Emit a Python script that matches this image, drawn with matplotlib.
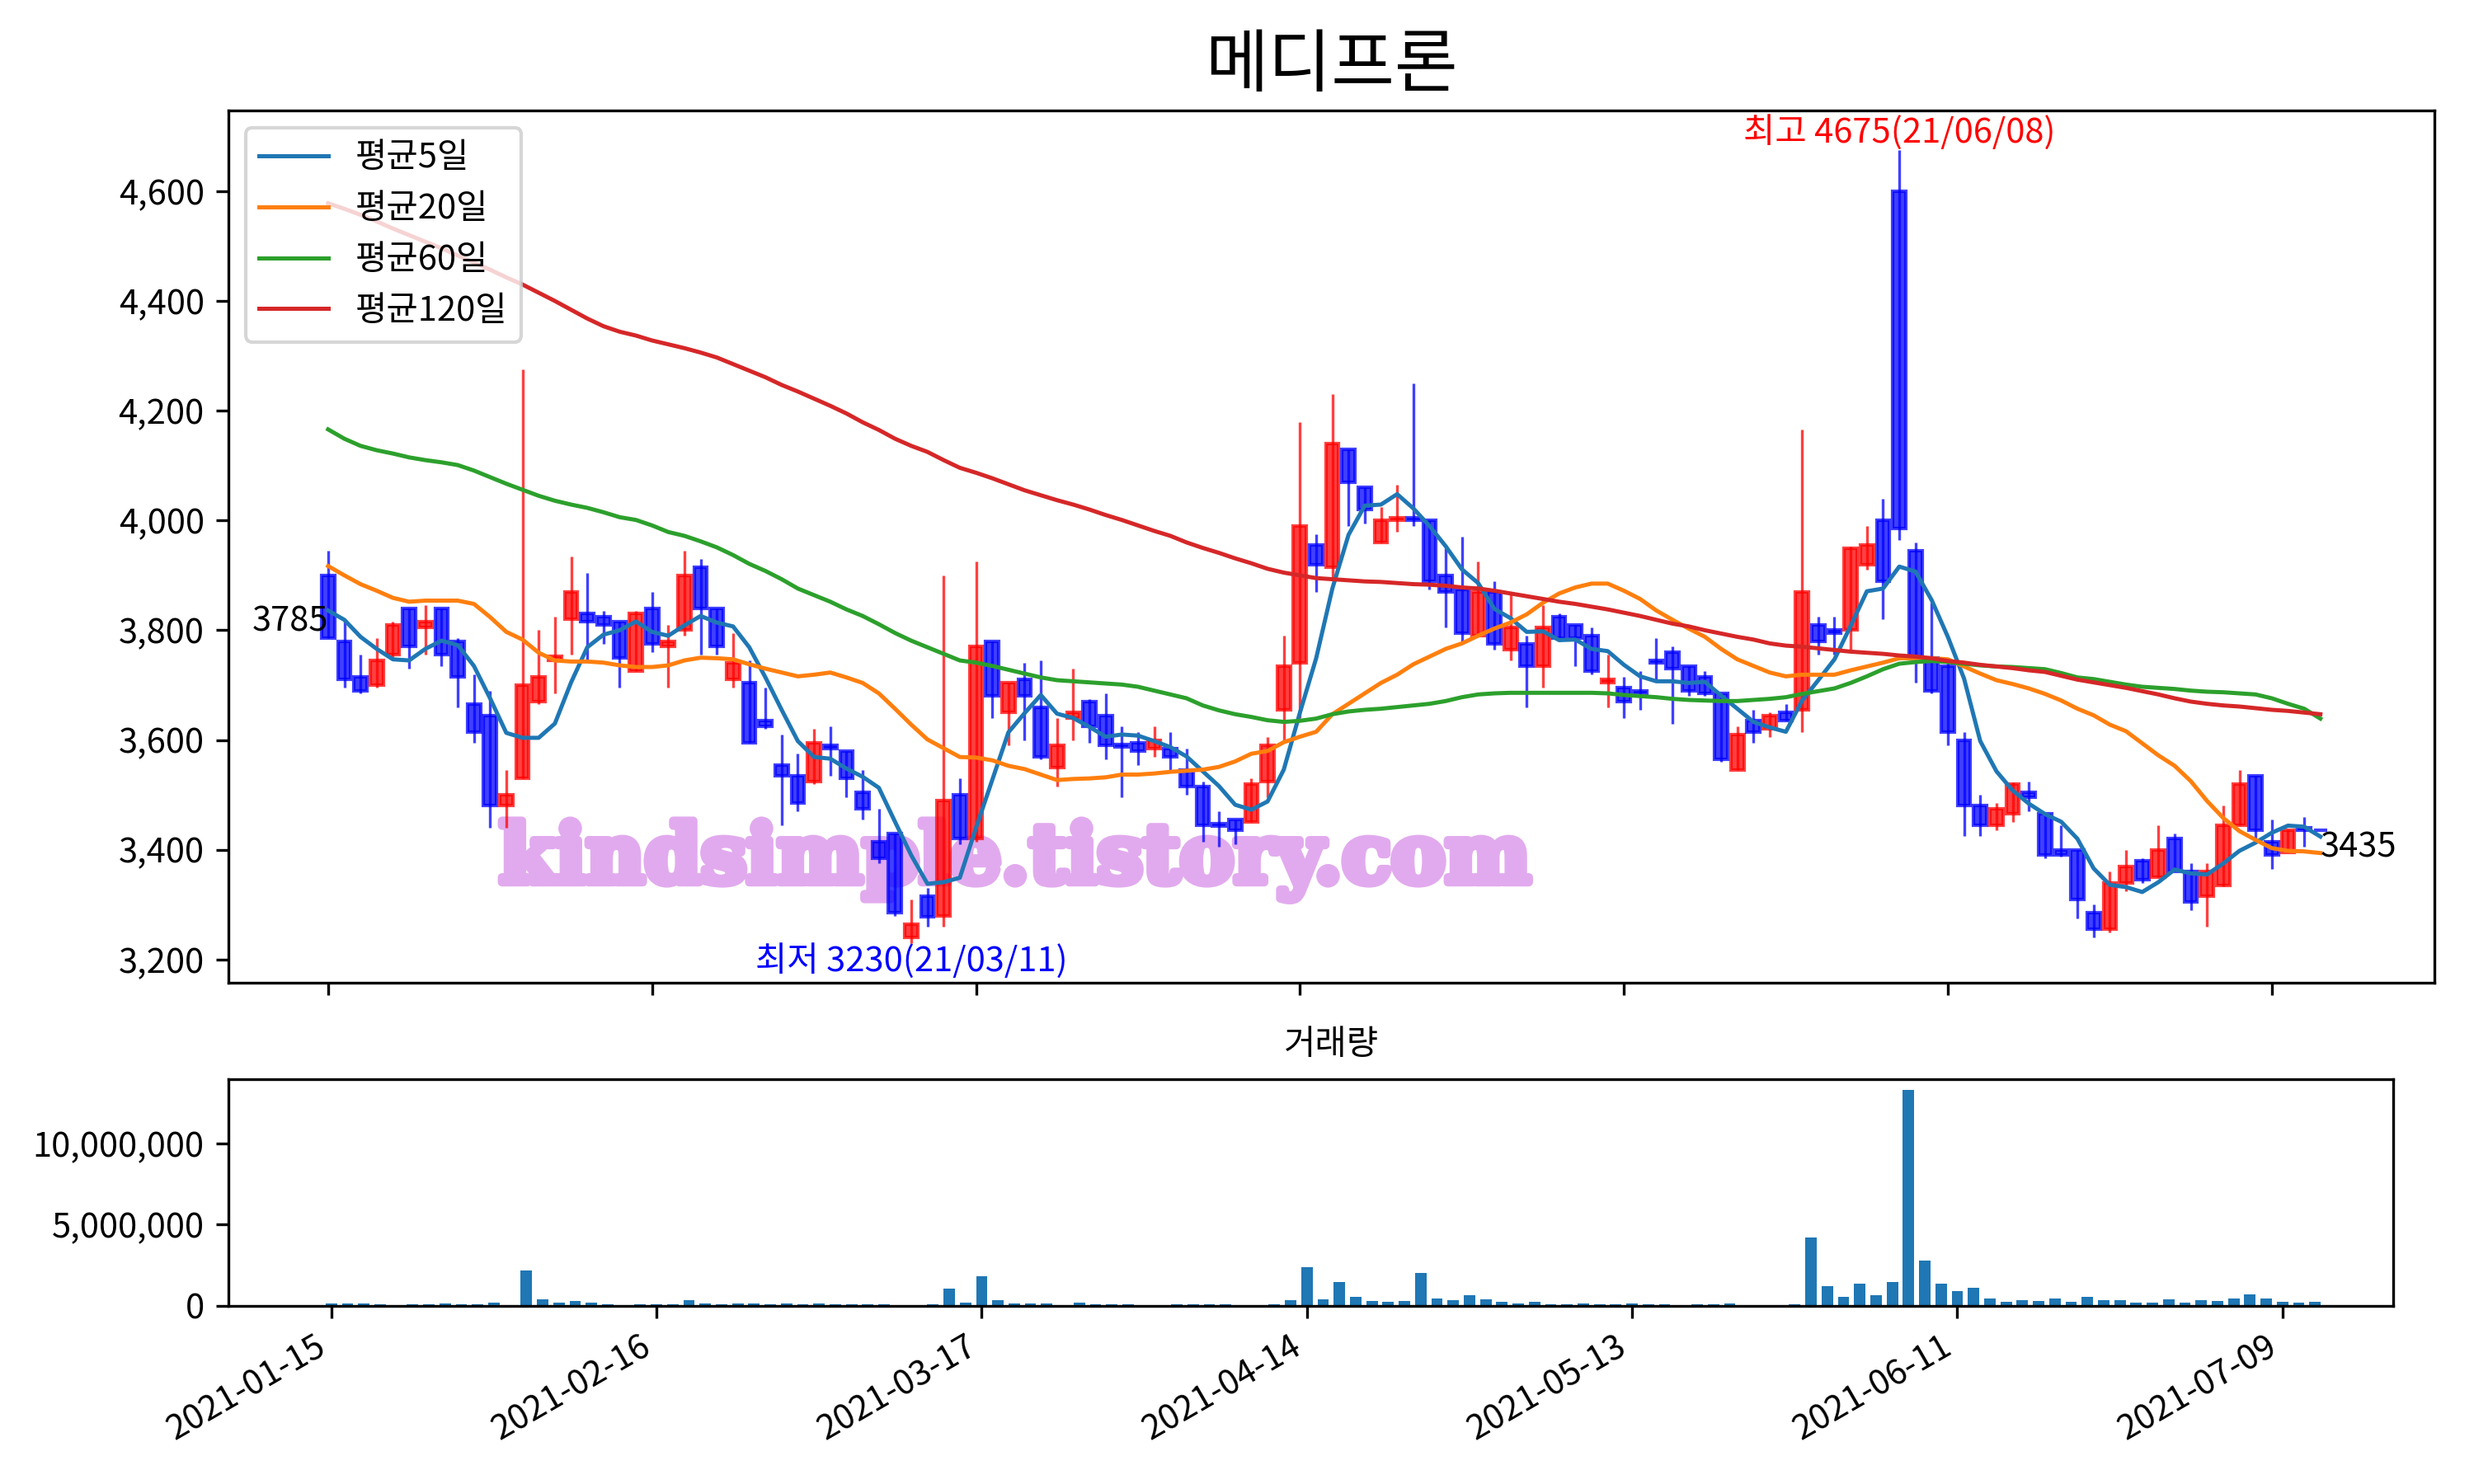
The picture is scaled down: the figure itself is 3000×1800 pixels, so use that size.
import matplotlib
matplotlib.use("Agg")
from matplotlib import pyplot as plt
from matplotlib import patheffects
from matplotlib.ticker import FuncFormatter
import numpy as np

plt.rcParams['font.family'] = ['Noto Sans CJK KR', 'DejaVu Sans']
plt.rcParams['font.size'] = 10
plt.rcParams['axes.unicode_minus'] = False

name = "메디프론"

opens = [3900, 3780, 3715, 3700, 3755, 3840, 3805, 3840, 3780, 3665,
         3645, 3480, 3530, 3670, 3745, 3820, 3830, 3825, 3815, 3725,
         3840, 3770, 3800, 3915, 3840, 3710, 3705, 3635, 3555, 3535,
         3525, 3590, 3580, 3505, 3415, 3430, 3240, 3315, 3280, 3500,
         3420, 3780, 3650, 3710, 3660, 3550, 3640, 3670, 3645, 3592,
         3595, 3585, 3585, 3545, 3515, 3448, 3455, 3450, 3525, 3655,
         3740, 3955, 3915, 4130, 4060, 3960, 4000, 4005, 4000, 3900,
         3875, 3790, 3870, 3765, 3775, 3735, 3825, 3810, 3790, 3705,
         3695, 3690, 3745, 3760, 3735, 3715, 3685, 3545, 3635, 3620,
         3650, 3655, 3810, 3800, 3800, 3920, 4000, 4600, 3945, 3750,
         3735, 3600, 3480, 3445, 3465, 3505, 3465, 3400, 3400, 3285,
         3255, 3340, 3380, 3350, 3420, 3360, 3315, 3335, 3445, 3535,
         3415, 3395, 3440, 3435]
highs = [3945, 3820, 3755, 3785, 3815, 3840, 3845, 3840, 3785, 3720,
         3690, 3545, 4275, 3800, 3825, 3935, 3905, 3835, 3815, 3835,
         3870, 3810, 3945, 3930, 3840, 3795, 3745, 3695, 3610, 3575,
         3620, 3625, 3580, 3545, 3475, 3430, 3310, 3330, 3900, 3530,
         3925, 3780, 3705, 3740, 3745, 3640, 3730, 3675, 3685, 3625,
         3615, 3625, 3615, 3585, 3525, 3470, 3455, 3530, 3605, 3790,
         4180, 3975, 4230, 4130, 4060, 4025, 4065, 4250, 4000, 3950,
         3970, 3925, 3890, 3865, 3790, 3845, 3830, 3810, 3805, 3755,
         3715, 3725, 3785, 3770, 3735, 3725, 3685, 3625, 3655, 3650,
         3665, 4165, 3825, 3825, 3952, 3990, 4040, 4675, 3960, 3850,
         3740, 3615, 3500, 3485, 3522, 3525, 3465, 3445, 3400, 3300,
         3360, 3400, 3385, 3445, 3430, 3375, 3375, 3480, 3545, 3535,
         3455, 3437, 3460, 3435]
lows = [3785, 3695, 3685, 3695, 3750, 3730, 3755, 3735, 3660, 3595,
        3440, 3440, 3530, 3665, 3685, 3755, 3745, 3775, 3695, 3725,
        3760, 3695, 3790, 3755, 3755, 3695, 3595, 3620, 3445, 3470,
        3520, 3535, 3495, 3455, 3375, 3280, 3230, 3260, 3260, 3410,
        3415, 3640, 3590, 3600, 3565, 3515, 3600, 3595, 3565, 3495,
        3555, 3570, 3545, 3500, 3415, 3405, 3410, 3450, 3495, 3600,
        3640, 3870, 3895, 3990, 3995, 3960, 3980, 3990, 3875, 3805,
        3775, 3790, 3765, 3745, 3660, 3695, 3780, 3735, 3720, 3660,
        3640, 3655, 3710, 3630, 3680, 3680, 3560, 3545, 3595, 3605,
        3635, 3615, 3755, 3755, 3765, 3910, 3820, 3965, 3705, 3685,
        3590, 3425, 3425, 3435, 3450, 3470, 3385, 3388, 3275, 3240,
        3250, 3325, 3340, 3350, 3360, 3290, 3260, 3333, 3445, 3420,
        3365, 3395, 3405, 3435]
closes = [3785, 3710, 3690, 3745, 3810, 3770, 3815, 3755, 3715, 3615,
          3480, 3500, 3700, 3715, 3752, 3870, 3815, 3810, 3750, 3830,
          3775, 3780, 3900, 3840, 3770, 3740, 3595, 3625, 3535, 3485,
          3595, 3585, 3530, 3475, 3385, 3285, 3265, 3278, 3490, 3420,
          3770, 3680, 3705, 3680, 3570, 3590, 3650, 3625, 3590, 3588,
          3580, 3600, 3570, 3515, 3445, 3443, 3435, 3520, 3590, 3735,
          3990, 3920, 4140, 4070, 4020, 4000, 4005, 4000, 3890, 3870,
          3795, 3870, 3775, 3805, 3735, 3805, 3785, 3785, 3725, 3710,
          3670, 3685, 3740, 3730, 3690, 3685, 3565, 3610, 3615, 3645,
          3635, 3870, 3780, 3795, 3950, 3955, 3890, 3985, 3750, 3690,
          3615, 3480, 3445, 3475, 3520, 3495, 3390, 3390, 3310, 3255,
          3340, 3370, 3345, 3400, 3360, 3305, 3360, 3445, 3520, 3435,
          3390, 3435, 3435, 3435]
volumes = [140000, 140000, 140000, 85000, 30000, 85000, 85000, 140000, 85000, 85000,
           190000, 30000, 2170000, 390000, 190000, 290000, 190000, 85000, 30000, 85000,
           85000, 85000, 340000, 140000, 85000, 140000, 140000, 85000, 140000, 85000,
           140000, 85000, 85000, 85000, 85000, 30000, 30000, 85000, 1050000, 190000,
           1810000, 340000, 140000, 140000, 140000, 30000, 190000, 85000, 85000, 85000,
           30000, 30000, 85000, 85000, 85000, 85000, 30000, 30000, 85000, 340000,
           2370000, 390000, 1460000, 540000, 290000, 240000, 290000, 2010000, 440000, 340000,
           640000, 390000, 240000, 140000, 240000, 85000, 85000, 140000, 85000, 85000,
           140000, 85000, 85000, 30000, 85000, 85000, 140000, 30000, 30000, 30000,
           85000, 4200000, 1200000, 540000, 1350000, 640000, 1460000, 13280000, 2770000, 1350000,
           900000, 1100000, 440000, 240000, 340000, 290000, 440000, 240000, 540000, 340000,
           340000, 190000, 190000, 390000, 190000, 340000, 290000, 440000, 690000, 440000,
           240000, 190000, 240000, 0]

ma5 = [3836, 3819, 3788, 3766, 3747, 3745, 3766, 3781, 3773, 3735,
       3676, 3613, 3604, 3604, 3630, 3705, 3769, 3792, 3800, 3816,
       3797, 3790, 3809, 3826, 3814, 3807, 3769, 3714, 3655, 3598,
       3569, 3566, 3548, 3533, 3513, 3451, 3390, 3338, 3341, 3349,
       3440, 3527, 3614, 3649, 3682, 3648, 3640, 3624, 3606, 3610,
       3608, 3598, 3587, 3570, 3543, 3516, 3482, 3473, 3488, 3546,
       3650, 3749, 3876, 3974, 4027, 4029, 4048, 4022, 3990, 3953,
       3911, 3886, 3839, 3822, 3797, 3798, 3782, 3783, 3766, 3762,
       3737, 3716, 3707, 3707, 3704, 3706, 3681, 3657, 3633, 3623,
       3615, 3672, 3709, 3747, 3808, 3871, 3876, 3916, 3907, 3855,
       3788, 3712, 3598, 3543, 3508, 3484, 3465, 3451, 3420, 3366,
       3336, 3332, 3323, 3341, 3364, 3357, 3355, 3375, 3398, 3413,
       3431, 3444, 3442, 3424]
ma20 = [3917, 3900, 3884, 3872, 3859, 3852, 3854, 3854, 3854, 3848,
        3824, 3797, 3783, 3759, 3745, 3743, 3743, 3741, 3736, 3733,
        3733, 3736, 3745, 3750, 3749, 3747, 3738, 3730, 3723, 3716,
        3719, 3723, 3714, 3704, 3685, 3657, 3628, 3601, 3585, 3569,
        3568, 3563, 3553, 3547, 3537, 3527, 3529, 3530, 3532, 3537,
        3537, 3539, 3542, 3544, 3546, 3551, 3561, 3575, 3580, 3596,
        3606, 3615, 3647, 3666, 3685, 3704, 3719, 3738, 3752, 3766,
        3776, 3790, 3803, 3814, 3829, 3850, 3867, 3878, 3885, 3885,
        3872, 3857, 3836, 3819, 3803, 3788, 3766, 3747, 3735, 3723,
        3716, 3719, 3719, 3719, 3727, 3734, 3741, 3749, 3749, 3749,
        3747, 3734, 3721, 3709, 3702, 3694, 3684, 3672, 3657, 3645,
        3628, 3616, 3594, 3572, 3553, 3525, 3489, 3458, 3434, 3418,
        3403, 3398, 3397, 3394]
ma60 = [4166, 4149, 4136, 4128, 4122, 4115, 4110, 4106, 4101, 4091,
        4079, 4067, 4056, 4045, 4036, 4029, 4023, 4015, 4006, 4001,
        3991, 3979, 3972, 3962, 3951, 3937, 3921, 3908, 3893, 3876,
        3864, 3852, 3838, 3826, 3811, 3795, 3781, 3769, 3757, 3745,
        3741, 3735, 3728, 3721, 3714, 3709, 3707, 3705, 3703, 3701,
        3697, 3690, 3683, 3676, 3663, 3654, 3647, 3642, 3636, 3633,
        3635, 3639, 3647, 3652, 3655, 3657, 3660, 3663, 3666, 3671,
        3678, 3683, 3685, 3686, 3686, 3686, 3686, 3686, 3686, 3685,
        3682, 3680, 3678, 3675, 3673, 3672, 3671, 3671, 3673, 3675,
        3678, 3684, 3689, 3694, 3704, 3716, 3729, 3739, 3742, 3744,
        3742, 3739, 3736, 3734, 3733, 3731, 3729, 3722, 3714, 3711,
        3706, 3701, 3697, 3695, 3693, 3690, 3688, 3687, 3685, 3683,
        3676, 3666, 3657, 3639]
ma120 = [4578, 4568, 4557, 4545, 4532, 4520, 4508, 4496, 4483, 4470,
         4457, 4443, 4430, 4415, 4400, 4384, 4368, 4354, 4344, 4337,
         4328, 4321, 4314, 4306, 4297, 4285, 4273, 4261, 4247, 4235,
         4222, 4209, 4195, 4179, 4165, 4149, 4136, 4125, 4110, 4096,
         4087, 4077, 4066, 4055, 4046, 4037, 4029, 4020, 4010, 4001,
         3991, 3981, 3972, 3960, 3950, 3941, 3931, 3922, 3912, 3905,
         3900, 3895, 3893, 3891, 3889, 3888, 3886, 3884, 3883, 3881,
         3878, 3876, 3872, 3867, 3862, 3857, 3852, 3848, 3843, 3838,
         3832, 3826, 3819, 3812, 3807, 3800, 3794, 3788, 3783, 3776,
         3772, 3770, 3767, 3764, 3761, 3759, 3757, 3754, 3752, 3749,
         3744, 3741, 3737, 3734, 3731, 3727, 3724, 3717, 3710, 3705,
         3700, 3695, 3689, 3683, 3676, 3670, 3666, 3663, 3661, 3658,
         3655, 3653, 3650, 3647]

tick_pos = [0, 20, 40, 60, 80, 100, 120]
tick_labels = ["2021-01-15", "2021-02-16", "2021-03-17", "2021-04-14",
               "2021-05-13", "2021-06-11", "2021-07-09"]

hi_idx, hi_label = 97, "최고 4675(21/06/08)"
lo_idx, lo_label = 36, "최저 3230(21/03/11)"


def comma(x, pos):
    return "{:,.0f}".format(x)


fig = plt.figure(figsize=(10, 6), dpi=300)
ax = fig.add_axes([0.0923, 0.3378, 0.8917, 0.5878])
ax_v = fig.add_axes([0.0923, 0.12, 0.875, 0.1528])

idx = np.arange(len(closes))
o = np.array(opens)
c = np.array(closes)
colors = ["red" if cc > oo else "blue" for oo, cc in zip(o, c)]

# 캔들
ax.vlines(idx, lows, highs, colors=colors, linewidth=0.8, alpha=0.75, zorder=2)
ax.bar(idx, np.abs(c - o), bottom=np.minimum(o, c), width=0.8,
       color=colors, edgecolor=colors, linewidth=1.0, alpha=0.75, zorder=2)

# 이동평균
ax.plot(idx, ma5, color="C0", lw=1.2, label="평균5일", zorder=3)
ax.plot(idx, ma20, color="C1", lw=1.2, label="평균20일", zorder=3)
ax.plot(idx, ma60, color="C2", lw=1.2, label="평균60일", zorder=3)
ax.plot(idx, ma120, color="C3", lw=1.2, label="평균120일", zorder=3)
ax.legend(loc="upper left")

ax.text(hi_idx, highs[hi_idx], hi_label, color="red", ha="center", va="bottom")
ax.text(lo_idx, lows[lo_idx], lo_label, color="blue", ha="center", va="top")
ax.text(0, closes[0], str(closes[0]), ha="right", va="bottom")
ax.text(idx[-1], closes[-1], str(closes[-1]), ha="left", va="top")

ax.text(42.4, 3380, "kindsimple.tistory.com", family="DejaVu Serif",
        fontweight="bold", fontsize=23.5, color="#e2aaee",
        ha="center", va="center", zorder=1,
        path_effects=[patheffects.withStroke(linewidth=2.5, foreground="#e2aaee")])

ax.set_xlim(-6.16, 130.04)
ax.set_ylim(3157.75, 4747.25)
ax.set_yticks(np.arange(3200, 4601, 200))
ax.yaxis.set_major_formatter(FuncFormatter(comma))
ax.set_xticks(tick_pos)
ax.set_xticklabels([])

# 거래량
ax_v.bar(idx, volumes, width=0.7, color="C0")
ax_v.set_xlim(-6.33, 126.8)
ax_v.set_ylim(0, 13.96e6)
ax_v.set_yticks([0, 5e6, 10e6])
ax_v.yaxis.set_major_formatter(FuncFormatter(comma))
ax_v.set_xticks(tick_pos)
ax_v.set_xticklabels(tick_labels, rotation=30, ha="right")

fig.text(0.5382, 0.9556, name, fontsize=20, ha="center", va="center")
fig.text(0.5382, 0.2961, "거래량", fontsize=10, ha="center", va="center")

fig.savefig("out.png", dpi=300)
